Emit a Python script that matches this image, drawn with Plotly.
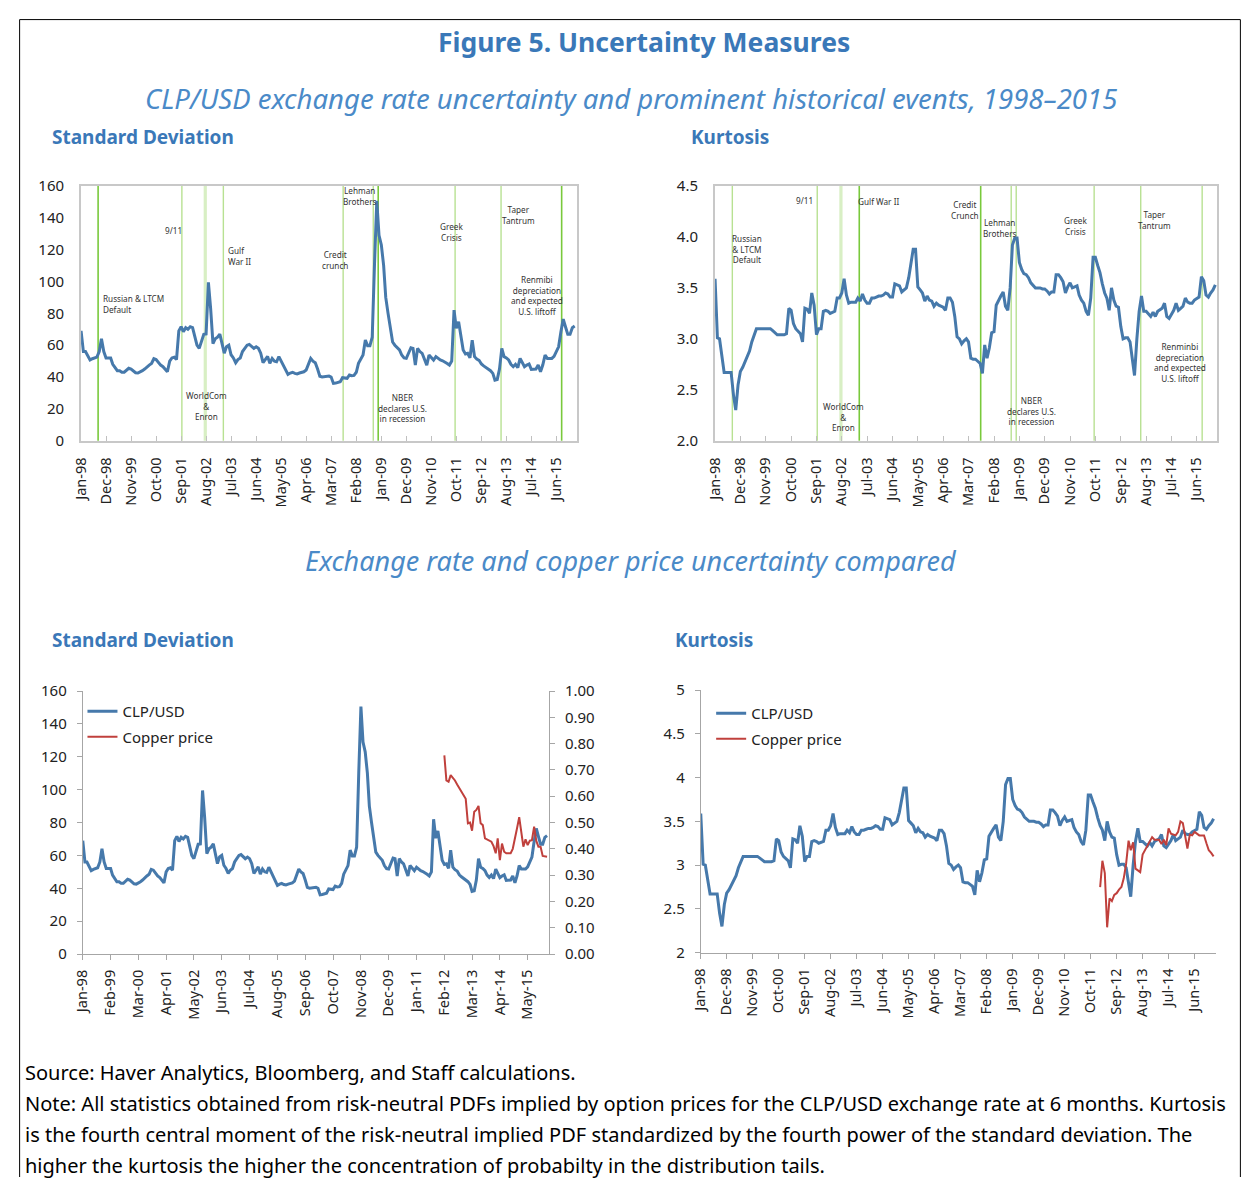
import pandas as pd
import plotly.graph_objects as go

# figure sized to fit the window (page body margin), positions calibrated to the photographed page
W, H = 1233, 1178
CAL_OX, CAL_OY = 19.0, 19.0
CAL_KX, CAL_KY = 0.990, 0.983

# ---------------- data ----------------
FIRST_MONTH = "1998-01-01"

# CLP/USD 6-month risk-neutral standard deviation (monthly, Jan-98 ...)
clp_sd = [
    69, 56, 56, 53, 50.7, 51.5, 52, 52.5, 56, 64, 56, 52,            # 1998
    52, 52, 48, 46, 44, 44, 43, 43, 44, 45.5, 45, 44,                # 1999
    42.7, 42.5, 43, 44, 45, 46.5, 47.5, 48.5, 51.5, 51, 49, 47.5,    # 2000
    46.5, 45, 43.3, 50, 52, 52.5, 51, 69, 71.6, 68.5, 71, 70,        # 2001
    71.6, 71, 66, 60, 58, 62, 66.8, 67, 99.5, 83, 61, 64,            # 2002
    65, 67, 62, 55, 59, 60, 54, 52, 49, 51, 52, 56,                  # 2003
    58, 60, 60.5, 59, 58, 59, 58, 55, 49, 51, 53, 48.6,              # 2004
    51.7, 50, 49.6, 52.8, 50, 46.5, 44, 41.7, 42.5, 43, 42.3, 42,    # 2005
    42.5, 43, 43.3, 44.4, 48, 51.7, 50, 49, 45, 40.5, 40, 40.2,      # 2006
    40.4, 40.6, 40, 36, 36.2, 36.6, 37, 39.6, 39.2, 39.2, 41.3, 40.8,  # 2007
    41, 43, 48.6, 51, 53.8, 63.2, 59.7, 59.7, 65, 110, 150.6, 129,   # 2008
    123, 110, 90, 80, 70, 62, 60, 58.4, 57, 53.8, 52, 51.7,          # 2009
    55, 58.4, 58, 47.5, 58, 56, 54.9, 51, 47.5, 53.8, 52, 50.7,      # 2010
    52.8, 51.5, 50.7, 50.2, 49.6, 48.5, 47.5, 50, 82, 70.6, 74.8, 66.4,  # 2011
    57, 54.5, 54.9, 52.1, 63.2, 52.8, 51.3, 50.5, 48.2, 47, 46, 45.4,    # 2012
    44, 42.3, 38.1, 38.5, 45, 58, 52.8, 52, 50.7, 48, 46.5, 48,      # 2013
    45.9, 51.7, 49.6, 46.5, 47.5, 48.2, 44.8, 45, 45, 47.5, 43.3, 47.5,  # 2014
    53.8, 51.7, 51.7, 51.7, 53, 56, 59, 68.5, 76.4, 71.6, 66.8, 66.8,    # 2015
    71, 72,                                                          # 2016
]

# CLP/USD risk-neutral kurtosis (monthly, Jan-98 ...)
clp_kurt = [
    3.59, 3.01, 3.00, 2.85, 2.67, 2.67, 2.67, 2.67, 2.45, 2.30, 2.55, 2.68,  # 1998
    2.72, 2.77, 2.82, 2.88, 2.97, 3.04, 3.10, 3.10, 3.10, 3.10, 3.10, 3.10,  # 1999
    3.10, 3.08, 3.06, 3.04, 3.04, 3.04, 3.04, 3.05, 3.30, 3.28, 3.15, 3.10,  # 2000
    3.07, 3.05, 2.97, 3.30, 3.29, 3.25, 3.45, 3.33, 3.04, 3.10, 3.10, 3.27,  # 2001
    3.28, 3.27, 3.25, 3.26, 3.27, 3.40, 3.40, 3.45, 3.59, 3.43, 3.35, 3.36,  # 2002
    3.36, 3.36, 3.40, 3.37, 3.44, 3.38, 3.35, 3.35, 3.40, 3.40, 3.41, 3.42,  # 2003
    3.42, 3.43, 3.45, 3.44, 3.41, 3.41, 3.54, 3.53, 3.52, 3.46, 3.48, 3.50,  # 2004
    3.60, 3.75, 3.88, 3.88, 3.51, 3.48, 3.45, 3.37, 3.42, 3.38, 3.37, 3.32,  # 2005
    3.35, 3.33, 3.32, 3.31, 3.28, 3.40, 3.40, 3.36, 3.22, 3.02, 3.00, 2.95,  # 2006
    2.98, 3.00, 2.97, 2.81, 2.80, 2.80, 2.78, 2.76, 2.66, 2.94, 2.81, 2.91,  # 2007
    3.06, 3.07, 3.33, 3.38, 3.42, 3.46, 3.32, 3.28, 3.50, 3.92, 3.99, 3.99,  # 2008
    3.75, 3.68, 3.64, 3.63, 3.60, 3.55, 3.53, 3.50, 3.50, 3.50, 3.49, 3.49,  # 2009
    3.47, 3.44, 3.46, 3.46, 3.63, 3.63, 3.60, 3.56, 3.45, 3.51, 3.55, 3.50,  # 2010
    3.51, 3.52, 3.43, 3.38, 3.35, 3.27, 3.23, 3.40, 3.80, 3.80, 3.72, 3.65,  # 2011
    3.54, 3.45, 3.40, 3.28, 3.50, 3.38, 3.32, 3.31, 3.12, 3.00, 3.01, 3.01,  # 2012
    2.97, 2.78, 2.64, 3.00, 3.27, 3.42, 3.27, 3.27, 3.24, 3.22, 3.26, 3.22,  # 2013
    3.27, 3.29, 3.30, 3.35, 3.22, 3.20, 3.24, 3.28, 3.35, 3.28, 3.30, 3.32,  # 2014
    3.40, 3.36, 3.35, 3.35, 3.38, 3.40, 3.41, 3.61, 3.57, 3.43, 3.41, 3.45,  # 2015
    3.48, 3.53,                                                              # 2016
]

COPPER_FIRST_MONTH = "2012-02-01"

# Copper price risk-neutral standard deviation (right axis), monthly from Feb-12
copper_sd = [
    0.755, 0.66, 0.655, 0.68, 0.67, 0.66, 0.645, 0.63, 0.617, 0.60, 0.59,
    0.497, 0.50, 0.469, 0.541, 0.548, 0.563, 0.497, 0.49, 0.44, 0.435, 0.433, 0.427,
    0.41, 0.383, 0.44, 0.357, 0.42, 0.389, 0.383, 0.383, 0.383, 0.40, 0.446, 0.478,
    0.52, 0.459, 0.408, 0.436, 0.414, 0.431, 0.433, 0.484, 0.43, 0.408, 0.408, 0.373,
    0.37, 0.37,
]

# Copper price risk-neutral kurtosis, monthly from Feb-12
copper_kurt = [
    2.75, 3.05, 2.91, 2.29, 2.62, 2.59, 2.66, 2.68, 2.72, 2.75, 2.85,
    3.02, 3.28, 3.17, 3.26, 2.96, 2.94, 2.92, 3.12, 3.17, 3.23, 3.28, 3.32,
    3.29, 3.29, 3.29, 3.24, 3.29, 3.23, 3.42, 3.36, 3.35, 3.34, 3.38, 3.50,
    3.48, 3.32, 3.19, 3.35, 3.34, 3.38, 3.36, 3.34, 3.34, 3.34, 3.25, 3.17,
    3.14, 3.10,
]

event_names = ["Russian & LTCM Default", "9/11", "WorldCom & Enron", "Gulf War II",
               "Credit crunch", "Lehman Brothers", "NBER declares U.S. in recession",
               "Greek Crisis", "Taper Tantrum", "Renminbi depreciation and expected U.S. liftoff"]
event_dates = ["1998-08-17", "2001-09-11", "2002-07-21", "2003-03-20", "2007-08-09",
               "2008-09-15", "2008-11-20", "2011-09-15", "2013-05-22", "2015-08-11"]

# ---------------- styling ----------------
FONT = "Noto Sans"
BLUE = "#4679ab"
RED = "#c0403c"
TITLE_BLUE = "#3a78b8"
SUB_BLUE = "#4a8ac8"
TXT = "#222222"
GREEN = {"strong": ("#79c93c", 1.6), "light": ("#b8e192", 1.4), "pale": ("#d8efc4", 3.2)}
tl_line_style = ["strong", "light", "pale", "light", "light", "light", "strong", "light", "light", "strong"]
tr_line_style = ["light", "light", "pale", "strong", "strong", "light", "light", "light", "light", "light"]

months = pd.date_range(FIRST_MONTH, periods=len(clp_sd), freq="MS")
cu_months = pd.date_range(COPPER_FIRST_MONTH, periods=len(copper_sd), freq="MS")
x_end = months[-1] + pd.Timedelta(days=26)
x_range = [months[0], x_end]


def px(x):
    # target screen x -> paper fraction
    return ((x - CAL_OX) / CAL_KX) / W


def py(y):
    # target screen y -> paper fraction
    return 1 - ((y - CAL_OY) / CAL_KY) / H


fig = go.Figure()

# top-left
fig.add_trace(go.Scatter(x=months, y=clp_sd, mode="lines", line=dict(color=BLUE, width=3),
                         xaxis="x", yaxis="y", showlegend=False))
# top-right
fig.add_trace(go.Scatter(x=months, y=clp_kurt, mode="lines", line=dict(color=BLUE, width=3),
                         xaxis="x2", yaxis="y2", showlegend=False))
# bottom-left
fig.add_trace(go.Scatter(x=months, y=clp_sd, mode="lines", name="CLP/USD", line=dict(color=BLUE, width=3),
                         xaxis="x3", yaxis="y3", legend="legend", legendgroup="a"))
fig.add_trace(go.Scatter(x=cu_months, y=copper_sd, mode="lines", name="Copper price", line=dict(color=RED, width=2),
                         xaxis="x3", yaxis="y5", legend="legend", legendgroup="b"))
# bottom-right
fig.add_trace(go.Scatter(x=months, y=clp_kurt, mode="lines", name="CLP/USD", line=dict(color=BLUE, width=3),
                         xaxis="x4", yaxis="y4", legend="legend2", legendgroup="c"))
fig.add_trace(go.Scatter(x=cu_months, y=copper_kurt, mode="lines", name="Copper price", line=dict(color=RED, width=2),
                         xaxis="x4", yaxis="y4", legend="legend2", legendgroup="d"))

shapes = []
for d, s in zip(event_dates, tl_line_style):
    c, w = GREEN[s]
    shapes.append(dict(type="line", xref="x", yref="y domain", x0=d, x1=d, y0=0, y1=1,
                       line=dict(color=c, width=w), layer="below"))
for d, s in zip(event_dates, tr_line_style):
    c, w = GREEN[s]
    shapes.append(dict(type="line", xref="x2", yref="y2 domain", x0=d, x1=d, y0=0, y1=1,
                       line=dict(color=c, width=w), layer="below"))
# outer frame (left, top, right sides; bottom runs off the page in the reference)
FRAME = dict(color="black", width=1)
shapes.append(dict(type="line", xref="paper", yref="paper", x0=0.0005, x1=0.0005, y0=0, y1=0.9995, line=FRAME))
shapes.append(dict(type="line", xref="paper", yref="paper", x0=0.0005, x1=0.9995, y0=0.9995, y1=0.9995, line=FRAME))
shapes.append(dict(type="line", xref="paper", yref="paper", x0=0.9995, x1=0.9995, y0=0, y1=0.9995, line=FRAME))

tickfont = dict(family=FONT, size=15, color=TXT)
xtickfont = dict(family=FONT, size=14.5, color=TXT)

top_x = dict(type="date", range=x_range, tickvals=list(months[::11]), tickformat="%b-%y", tickangle=-90,
             ticks="inside", ticklen=5, tickcolor="#c0c0c0", showline=True, mirror=True, linecolor="#c8c8c8",
             linewidth=2, showgrid=False, zeroline=False, tickfont=xtickfont, ticklabelstandoff=9)
top_y = dict(showline=True, mirror=True, linecolor="#c8c8c8", linewidth=2, showgrid=False, zeroline=False,
             ticks="", tickfont=tickfont, ticklabelstandoff=12)
bot_x = dict(type="date", range=x_range, tickformat="%b-%y", tickangle=-90, ticks="outside", ticklen=5,
             tickcolor="#a6a6a6", showline=True, linecolor="#a6a6a6", linewidth=1, showgrid=False,
             zeroline=False, tickfont=xtickfont, ticklabelstandoff=4)
bot_y = dict(showline=True, linecolor="#a6a6a6", linewidth=1, showgrid=False, zeroline=False,
             ticks="outside", ticklen=5, tickcolor="#a6a6a6", tickfont=tickfont, ticklabelstandoff=7)

TOP_Y = [py(440.7), py(186)]
LEG_TEXT_GAP = 40  # legend text starts this many px right of the legend's left edge
fig.update_layout(
    width=W, height=H, margin=dict(l=0, r=0, t=0, b=0),
    paper_bgcolor="white", plot_bgcolor="white",
    font=dict(family=FONT, color=TXT),
    xaxis=dict(top_x, domain=[px(81), px(576)], anchor="y"),
    yaxis=dict(top_y, domain=TOP_Y, range=[0, 160], dtick=20, anchor="x"),
    xaxis2=dict(top_x, domain=[px(714.3), px(1216)], anchor="y2"),
    yaxis2=dict(top_y, domain=TOP_Y, range=[2.0, 4.5], dtick=0.5, tickformat=".1f", anchor="x2"),
    xaxis3=dict(bot_x, domain=[px(82.7), px(548.3)], anchor="y3", tickvals=list(months[::13])),
    yaxis3=dict(bot_y, domain=[py(954), py(691)], range=[0, 160], dtick=20, anchor="x3"),
    yaxis5=dict(bot_y, range=[0, 1], dtick=0.1, tickformat=".2f", overlaying="y3", side="right", anchor="x3"),
    xaxis4=dict(bot_x, domain=[px(700), px(1214.3)], anchor="y4", tickvals=list(months[::11])),
    yaxis4=dict(bot_y, domain=[py(952.7), py(690)], range=[2, 5], dtick=0.5, anchor="x4"),
    legend=dict(x=px(122) - LEG_TEXT_GAP / W, y=py(695), xanchor="left", yanchor="top", bgcolor="rgba(0,0,0,0)",
                font=dict(family=FONT, size=15, color=TXT), tracegroupgap=3, itemwidth=30),
    legend2=dict(x=px(750) - LEG_TEXT_GAP / W, y=py(697), xanchor="left", yanchor="top", bgcolor="rgba(0,0,0,0)",
                 font=dict(family=FONT, size=15, color=TXT), tracegroupgap=3, itemwidth=30),
    shapes=shapes,
)

ann = []


def text(x, y, t, size, color=TXT, bold=False, italic=False, align="center", xanchor="center"):
    if bold:
        t = "<b>" + t + "</b>"
    if italic:
        t = "<i>" + t + "</i>"
    ann.append(dict(x=px(x), y=py(y), xref="paper", yref="paper", text=t, showarrow=False,
                    xanchor=xanchor, yanchor="middle", align=align,
                    font=dict(family=FONT, size=size, color=color)))


text(643, 42, "Figure 5. Uncertainty Measures", 26.5, TITLE_BLUE, bold=True)
text(630, 98, "CLP/USD exchange rate uncertainty and prominent historical events, 1998\u20132015", 27.5, SUB_BLUE, italic=True)
text(50, 137, "Standard Deviation", 19, TITLE_BLUE, bold=True, xanchor="left", align="left")
text(688, 137, "Kurtosis", 19, TITLE_BLUE, bold=True, xanchor="left", align="left")
text(630, 560, "Exchange rate and copper price uncertainty compared", 27, SUB_BLUE, italic=True)
text(50, 640, "Standard Deviation", 19, TITLE_BLUE, bold=True, xanchor="left", align="left")
text(672, 640, "Kurtosis", 19, TITLE_BLUE, bold=True, xanchor="left", align="left")

ES = 8.2
EC = "#333333"
# top-left event labels
text(101, 304, "Russian & LTCM<br>Default", ES, EC, xanchor="left", align="left")
text(173, 230, "9/11", ES, EC)
text(206, 406, "WorldCom<br>&<br>Enron", ES, EC)
text(226, 256, "Gulf<br>War II", ES, EC, xanchor="left", align="left")
text(335, 260, "Credit<br>crunch", ES, EC)
text(360, 196, "Lehman<br>Brothers", ES, EC)
text(401.7, 408, "NBER<br>declares U.S.<br>in recession", ES, EC)
text(450.7, 231.5, "Greek<br>Crisis", ES, EC)
text(518.3, 215, "Taper<br>Tantrum", ES, EC)
text(536, 295, "Renmibi<br>depreciation<br>and expected<br>U.S. liftoff", ES, EC)
# top-right event labels
text(746.7, 248.5, "Russian<br>& LTCM<br>Default", ES, EC)
text(803.3, 200.7, "9/11", ES, EC)
text(878, 201, "Gulf War II", ES, EC)
text(842.7, 417, "WorldCom<br>&<br>Enron", ES, EC)
text(964, 209.7, "Credit<br>Crunch", ES, EC)
text(999, 227.5, "Lehman<br>Brothers", ES, EC)
text(1030.7, 411.3, "NBER<br>declares U.S.<br>in recession", ES, EC)
text(1074.3, 226, "Greek<br>Crisis", ES, EC)
text(1153.3, 219.7, "Taper<br>Tantrum", ES, EC)
text(1178.3, 362.7, "Renminbi<br>depreciation<br>and expected<br>U.S. liftoff", ES, EC)

NS = 20
text(23, 1072, "Source: Haver Analytics, Bloomberg, and Staff calculations.", NS, "black", xanchor="left", align="left")
text(23, 1103, "Note: All statistics obtained from risk-neutral PDFs implied by option prices for the CLP/USD exchange rate at 6 months. Kurtosis", NS, "black", xanchor="left", align="left")
text(23, 1134, "is the fourth central moment of the risk-neutral implied PDF standardized by the fourth power of the standard deviation. The", NS, "black", xanchor="left", align="left")
text(23, 1165, "higher the kurtosis the higher the concentration of probabilty in the distribution tails.", NS, "black", xanchor="left", align="left")

fig.update_layout(annotations=ann)
fig.write_html("out.html")
